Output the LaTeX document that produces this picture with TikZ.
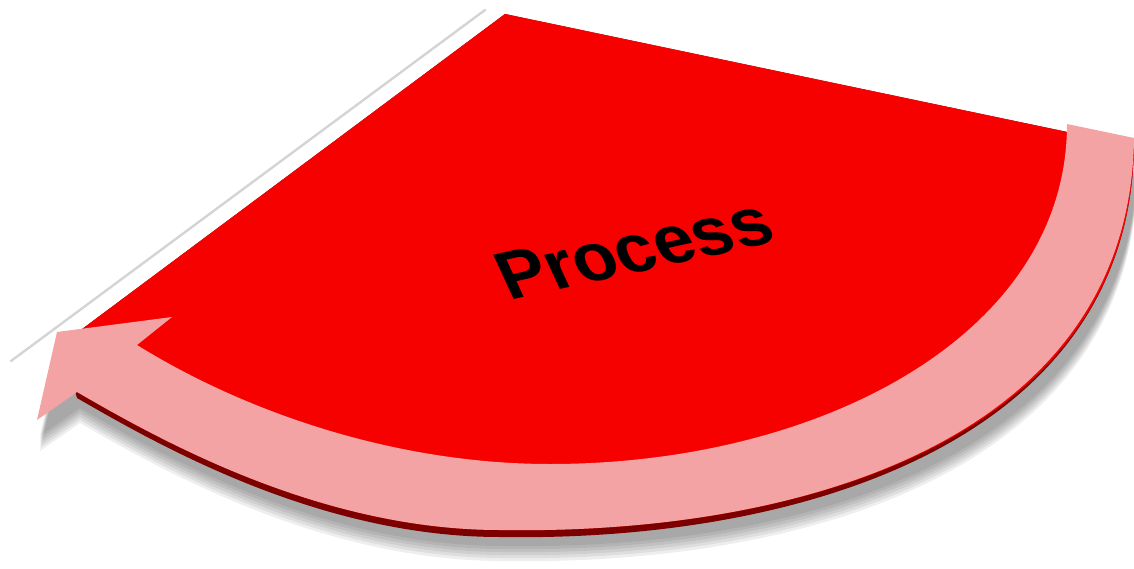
\documentclass[tikz,border=0pt]{standalone}
\usepackage{fontspec}
\setmainfont{Liberation Sans}
\definecolor{facered}{RGB}{246,0,0}
\definecolor{arrowpink}{RGB}{243,163,163}
\definecolor{slabred}{RGB}{125,0,0}
\definecolor{edgegray}{RGB}{212,212,212}
\tikzset{
  shadowlayer/.style={fill=black,opacity=0.065},
  facefill/.style={fill=facered},
  slabfill/.style={fill=slabred},
  bandfill/.style={fill=arrowpink},
  rimline/.style={draw=edgegray,line width=2.4pt,line cap=round},
  labeltext/.style={inner sep=0pt,anchor=base,font=\fontsize{71}{84}\selectfont\bfseries,text=black}
}
\begin{document}
\begin{tikzpicture}[x=1pt,y=-1pt]
\useasboundingbox (0,0) rectangle (1134,569);
% soft shadow
\foreach \k in {16,19,22,25,28,31}{
  \path[shadowlayer,shift={(3,\k)}] (505,14) -- (1134,146) .. controls (1130,440) and (800,535) .. (500,530) .. controls (320,530) and (160,440) .. (77,392) -- (37,420) -- (57,332) -- cycle;
}
% thin rim line at upper left
\coordinate (rimA) at (485,10);
\coordinate (rimB) at (11,361);
\path[rimline] (rimA) -- (rimB);
% side of the slab (thick at the front, vanishing at the right)
\path[slabfill] (505,14) -- (1134,146) .. controls (1130,442) and (800,542) .. (500,537) .. controls (320,537) and (160,446) .. (77,398) -- (62,344) -- cycle;
% top face
\path[facefill] (505,14) -- (1134,146) .. controls (1130,440) and (800,535) .. (500,530) .. controls (320,530) and (160,440) .. (77,392) -- (62,344) -- cycle;
% curved arrow band
\path[bandfill] (1067,124) -- (1134,138) .. controls (1130,440) and (800,535) .. (500,530) .. controls (320,530) and (160,440) .. (77,392) -- (37,420) -- (57,332) -- (172,317) -- (137,345) .. controls (250,415) and (400,464) .. (550,464) .. controls (820,464) and (1067,335) .. (1067,124) -- cycle;
% label
\node[labeltext,cm={0.976,0.216,-0.419,0.908,(0,0)}] (lbl) at (644,271) {Process};
\end{tikzpicture}
\end{document}
